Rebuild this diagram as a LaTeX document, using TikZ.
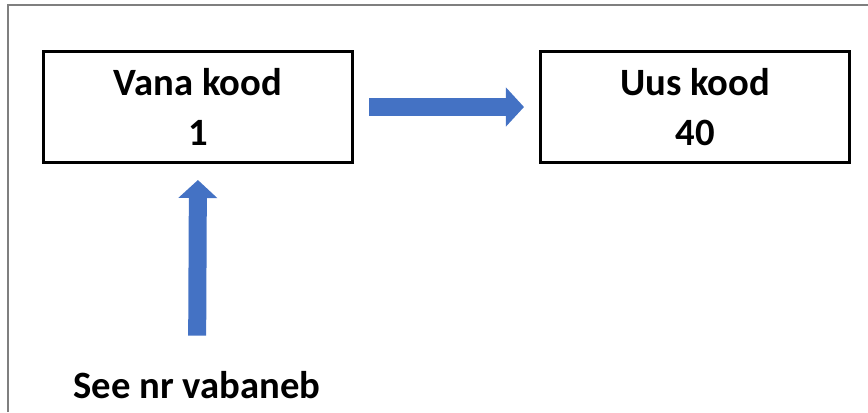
\documentclass[tikz,border=0pt]{standalone}
\usepackage{fontspec}
\setmainfont{Carlito}
\usepackage{xcolor}
\usetikzlibrary{arrows.meta, positioning, calc}

\definecolor{arrowblue}{HTML}{4472C4}
\definecolor{framegray}{HTML}{7F7F7F}

\begin{document}
\begin{tikzpicture}[x=0.03cm, y=-0.03cm,
   box/.style={draw, line width=0.1cm, rectangle, minimum width=9.26cm, minimum height=3.32cm, align=center, inner sep=0pt, font=\fontsize{33}{43}\selectfont\bfseries},
   blockarrow/.style={line width=0.54cm, draw=arrowblue, -{Triangle[length=0.54cm, width=1.14cm]}}]
\useasboundingbox (0,0) rectangle (868,412);

% frame
\draw[framegray, line width=0.07cm] (8,412) -- (8,5) -- (868,5);

% code boxes
\node[box] (vana) at (198,107) {Vana kood\\1};
\node[box] (uus) at (695,107) {Uus kood\\40};

% caption below
\node[inner sep=0pt, anchor=base, font=\fontsize{33}{40}\selectfont\bfseries] (vabaneb) at (197,398) {See nr vabaneb};

% block arrows
\draw[blockarrow, shorten <=0.45cm, shorten >=0.45cm] (vana.east) -- (uus.west);
\draw[blockarrow, shorten <=1.05cm, shorten >=0.48cm] (vabaneb.north) -- (vana.south);
\end{tikzpicture}
\end{document}
